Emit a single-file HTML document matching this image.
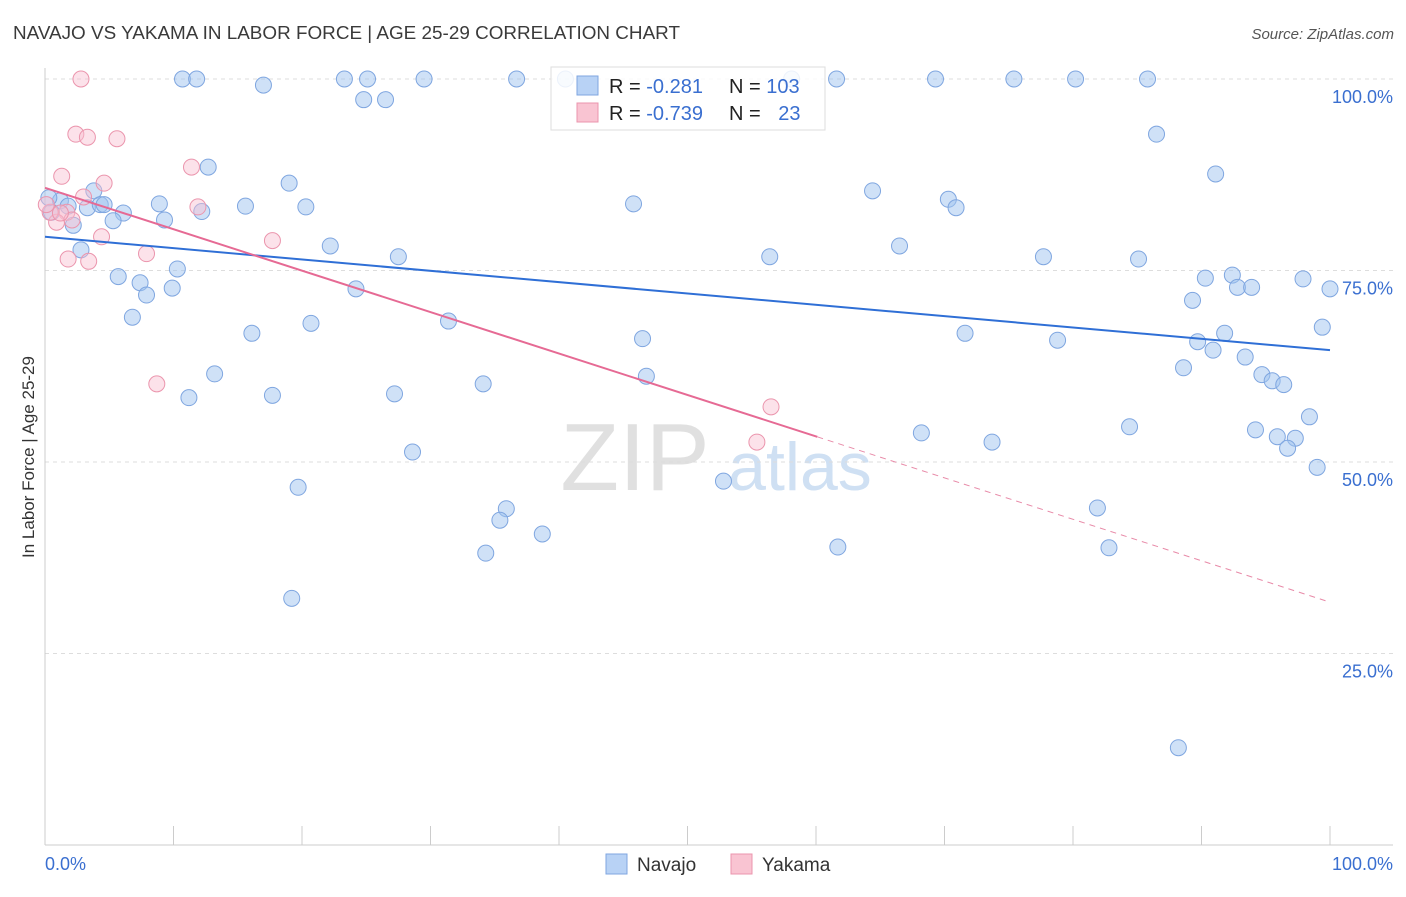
<!DOCTYPE html>
<html><head><meta charset="utf-8"><style>
body{margin:0;background:#fff;font-family:"Liberation Sans",sans-serif}
svg text{font-family:"Liberation Sans",sans-serif}
</style></head><body>
<svg id="chart" width="1406" height="892" viewBox="0 0 1406 892">
<text x="13" y="39" font-size="18" fill="#3a3a3a" textLength="667" lengthAdjust="spacingAndGlyphs">NAVAJO VS YAKAMA IN LABOR FORCE | AGE 25-29 CORRELATION CHART</text>
<text x="1394" y="39" font-size="15" fill="#555" text-anchor="end" font-style="italic">Source: ZipAtlas.com</text>
<text transform="translate(34,457) rotate(-90)" font-size="17" fill="#333" text-anchor="middle">In Labor Force | Age 25-29</text>
<g>
<text x="635" y="490" font-size="96" fill="#e0e0e0" text-anchor="middle" font-family="Liberation Serif,serif">ZIP</text>
<text x="800" y="490" font-size="68" fill="#cfe0f3" text-anchor="middle">atlas</text>
</g>
<g id="grid"></g><g id="axes"></g><g id="pts"></g><g id="trend"></g>
<g>
<rect x="551" y="67" width="274" height="63" fill="rgba(255,255,255,0.85)" stroke="#ddd"/>
<rect x="577" y="76" width="21" height="19" fill="#b8d2f5" stroke="#7fa6e0"/>
<rect x="577" y="103" width="21" height="19" fill="#f9c4d2" stroke="#eb95ad"/>
<text x="609" y="93" font-size="20" fill="#222">R = <tspan fill="#3a6fd0">-0.281</tspan></text>
<text x="729" y="93" font-size="20" fill="#222">N = <tspan fill="#3a6fd0">103</tspan></text>
<text x="609" y="120" font-size="20" fill="#222">R = <tspan fill="#3a6fd0">-0.739</tspan></text>
<text x="729" y="120" font-size="20" fill="#222">N = <tspan fill="#3a6fd0" dx="12">23</tspan></text>
</g>
<g>
<rect x="606" y="854" width="21" height="20" fill="#b8d2f5" stroke="#7fa6e0"/>
<text x="637" y="871" font-size="19" fill="#333">Navajo</text>
<rect x="731" y="854" width="21" height="20" fill="#f9c4d2" stroke="#eb95ad"/>
<text x="762" y="871" font-size="19" fill="#333">Yakama</text>
</g>
</svg>
<script>
const navajoX=[10.7,11.8,17.0,23.3,25.1,29.5,36.7,40.5,58.1,61.6,69.3,75.4,80.2,85.8,24.8,26.5,86.5,12.7,91.1,19.0,3.8,64.4,1.2,1.8,3.3,4.3,4.6,8.9,15.6,20.3,45.8,70.3,70.9,6.1,12.2,9.3,5.3,2.2,0.5,22.2,66.5,2.8,27.5,56.4,77.7,85.1,10.3,5.7,7.4,90.3,92.4,97.9,92.8,93.9,100,9.9,7.9,24.2,89.3,6.8,20.7,31.4,16.1,71.6,99.4,46.5,78.8,89.7,91.8,90.9,93.4,88.6,13.2,46.8,94.7,95.5,96.4,34.1,11.2,17.7,27.2,98.4,84.4,68.2,94.2,95.9,97.3,73.7,96.7,28.6,99.0,52.8,19.7,35.9,81.9,35.4,38.7,34.3,61.7,82.8,19.2,88.2,0.3];
const navajoY=[100,100,99.2,100,100,100,100,100,100,100,100,100,100,100,97.3,97.3,92.8,88.5,87.6,86.4,85.4,85.4,84.1,83.4,83.2,83.6,83.6,83.7,83.4,83.3,83.7,84.3,83.2,82.5,82.7,81.6,81.5,80.9,82.6,78.2,78.2,77.7,76.8,76.8,76.8,76.5,75.2,74.2,73.4,74.0,74.4,73.9,72.8,72.8,72.6,72.7,71.8,72.6,71.1,68.9,68.1,68.4,66.8,66.8,67.6,66.1,65.9,65.7,66.8,64.6,63.7,62.3,61.5,61.2,61.4,60.6,60.1,60.2,58.4,58.7,58.9,55.9,54.6,53.8,54.2,53.3,53.1,52.6,51.8,51.3,49.3,47.5,46.7,43.9,44.0,42.4,40.6,38.1,38.9,38.8,32.2,12.7,84.5];
const yakamaX=[2.8,2.4,3.3,5.6,1.3,11.4,4.6,3.0,11.9,1.7,0.9,2.1,4.4,17.7,7.9,1.8,3.4,8.7,56.5,55.4,0.4,1.2,0.1];
const yakamaY=[100,92.8,92.4,92.2,87.3,88.5,86.4,84.6,83.3,82.6,81.3,81.6,79.4,78.9,77.2,76.5,76.2,60.2,57.2,52.6,82.6,82.5,83.6];
const yTicks=[100,75,50,25];
const yTickLabels=["100.0%","75.0%","50.0%","25.0%"];
const xTicks=[0,10,20,30,40,50,60,70,80,90,100];
const navajoTrend=[79.4,64.6];
const yakamaTrend=[85.8,31.7];
const yakamaSolidEnd=60.1;
const X=v=>45+v*12.85, Y=v=>845-v*7.66;
const NS='http://www.w3.org/2000/svg';
function mk(p,t,a){const e=document.createElementNS(NS,t);for(const k in a)e.setAttribute(k,a[k]);p.appendChild(e);return e;}
const grid=document.getElementById('grid'),axes=document.getElementById('axes'),pts=document.getElementById('pts'),tr=document.getElementById('trend');
yTicks.forEach((t,i)=>{
 const l=mk(grid,'line',{x1:45,x2:1393,y1:Y(t),y2:Y(t),stroke:'#ddd','stroke-dasharray':'4,4'});
 
 
 const tx=mk(grid,'text',{x:1393,y:Y(t)+24,'font-size':18,fill:'#3a6fd0','text-anchor':'end'});
 tx.textContent=yTickLabels[i];
 
 
});
let a=mk(axes,'line',{x1:45,x2:45,y1:68,y2:845,stroke:'#ccc'});


a=mk(axes,'line',{x1:45,x2:1393,y1:845,y2:845,stroke:'#ccc'});


xTicks.forEach(t=>{const l=mk(axes,'line',{x1:X(t),x2:X(t),y1:826,y2:845,stroke:'#ccc'});
 
 });
let t0=mk(axes,'text',{x:45,y:870,'font-size':18,fill:'#3a6fd0'});t0.textContent='0.0%';


let t1=mk(axes,'text',{x:1393,y:870,'font-size':18,fill:'#3a6fd0','text-anchor':'end'});t1.textContent='100.0%';


navajoX.forEach((x,i)=>{const c=mk(pts,'circle',{cx:X(x),cy:Y(navajoY[i]),r:8,fill:'rgba(160,195,240,0.5)',stroke:'#7fa6e0','stroke-width':1});
 
 });
yakamaX.forEach((x,i)=>{const c=mk(pts,'circle',{cx:X(x),cy:Y(yakamaY[i]),r:8,fill:'rgba(248,190,208,0.45)',stroke:'#eb95ad','stroke-width':1});
 
 });
let l=mk(tr,'line',{x1:X(0),y1:Y(navajoTrend[0]),x2:X(100),y2:Y(navajoTrend[1]),stroke:'#2f6fd6','stroke-width':2});


const ym=yakamaTrend[0]+(yakamaTrend[1]-yakamaTrend[0])*yakamaSolidEnd/100;
l=mk(tr,'line',{x1:X(0),y1:Y(yakamaTrend[0]),x2:X(yakamaSolidEnd),y2:Y(ym),stroke:'#e66a94','stroke-width':2});


l=mk(tr,'line',{x1:X(yakamaSolidEnd),y1:Y(ym),x2:X(100),y2:Y(yakamaTrend[1]),stroke:'#e88aa8','stroke-width':1,'stroke-dasharray':'6,5'});


</script>
</body></html>
